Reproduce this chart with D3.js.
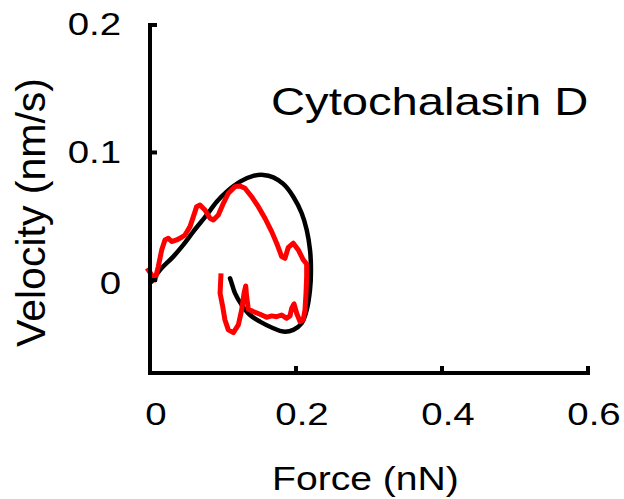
<!DOCTYPE html>
<html><head><meta charset="utf-8">
<script src="https://cdn.jsdelivr.net/npm/d3@7"></script>
<style>html,body{margin:0;padding:0;background:#fff}</style>
</head><body><svg id="c" width="624" height="499"></svg>
<script>
// ---- data ----
const xTicks = [0, 0.2, 0.4, 0.6];
const xTickLabels = ["0", "0.2", "0.4", "0.6"];
const yTicks = [0, 0.1, 0.2];
const yTickLabels = ["0", "0.1", "0.2"];
const titleText = "Cytochalasin D";
const xLabel = "Force (nN)";
const yLabel = "Velocity (nm/s)";

// model (black) loop
const modelForce = [0.0025,0.0137,0.0319,0.0456,0.0593,0.0777,0.0914,0.1051,0.1233,0.1415,0.1552,0.1689,0.1826,0.1963,0.2078,0.2147,0.2192,0.2205,0.2192,0.2147,0.2078,0.1963,0.1826,0.1689,0.1507,0.1370,0.1256,0.1164,0.1119,0.1096];
const modelVelocity = [-0.0013,0.0078,0.0183,0.0275,0.0379,0.0510,0.0614,0.0693,0.0771,0.0816,0.0824,0.0805,0.0753,0.0653,0.0523,0.0392,0.0235,0.0078,-0.0078,-0.0235,-0.0340,-0.0392,-0.0405,-0.0379,-0.0327,-0.0275,-0.0196,-0.0104,-0.0026,0.0013];

// measured (red) trace
const measForce = [-0.004,0.0068,0.0114,0.0160,0.0205,0.0251,0.0297,0.0365,0.0434,0.0479,0.0548,0.0594,0.0639,0.0685,0.0753,0.0822,0.0868,0.0936,0.1005,0.1073,0.1164,0.1233,0.1301,0.1393,0.1484,0.1575,0.1667,0.1735,0.1804,0.1849,0.1895,0.1963,0.2032,0.2100,0.2146,0.2146,0.2137,0.2123,0.2100,0.2055,0.2009,0.1973,0.1941,0.1918,0.1872,0.1804,0.1735,0.1667,0.1598,0.1507,0.1415,0.1347,0.1324,0.1311,0.1288,0.1256,0.1210,0.1142,0.1073,0.1027,0.0996,0.0960,0.0973];
const measVelocity = [0.0092,0.0000,0.0105,0.0235,0.0314,0.0327,0.0301,0.0314,0.0335,0.0353,0.0418,0.0497,0.0575,0.0588,0.0549,0.0484,0.0471,0.0510,0.0601,0.0680,0.0732,0.0737,0.0719,0.0653,0.0575,0.0484,0.0379,0.0288,0.0183,0.0170,0.0256,0.0288,0.0235,0.0157,0.0125,0.0026,-0.0105,-0.0235,-0.0309,-0.0327,-0.0261,-0.0188,-0.0222,-0.0282,-0.0301,-0.0275,-0.0288,-0.0282,-0.0293,-0.0269,-0.0248,-0.0230,-0.0131,-0.0047,-0.0105,-0.0235,-0.0353,-0.0413,-0.0392,-0.0314,-0.0209,-0.0105,0.0052];

// ---- chart ----
const svg = d3.select("#c");
svg.append("rect").attr("width",624).attr("height",499).attr("fill","#fff");
const FONT = "'Liberation Sans', Arial, Helvetica, sans-serif";

const x = d3.scaleLinear().domain([0, 0.6]).range([150, 588]);
const y = d3.scaleLinear().domain([-0.073, 0.2]).range([373, 25]);

function stretch(sel, f) {
  sel.each(function() {
    const w = this.getComputedTextLength();
    d3.select(this).attr("textLength", w * f).attr("lengthAdjust", "spacingAndGlyphs");
  });
}

// curves
const model = modelForce.map((f, i) => [f, modelVelocity[i]]);
const meas = measForce.map((f, i) => [f, measVelocity[i]]);

svg.append("path").datum(model)
  .attr("d", d3.line().x(d => x(d[0])).y(d => y(d[1])).curve(d3.curveCatmullRom))
  .attr("fill", "none").attr("stroke", "#000").attr("stroke-width", 4.5)
  .attr("stroke-linecap", "round");

svg.append("path").datum(meas)
  .attr("d", d3.line().x(d => x(d[0])).y(d => y(d[1])))
  .attr("fill", "none").attr("stroke", "#f00").attr("stroke-width", 5)
  .attr("stroke-linejoin", "round").attr("stroke-linecap", "butt");

// axes
const xAxis = svg.append("g").attr("transform", `translate(0,${y(-0.073)})`)
  .call(d3.axisBottom(x).tickValues(xTicks).tickFormat((d, i) => xTickLabels[i])
    .tickSize(-7).tickSizeOuter(0).tickPadding(29).offset(0));
const yAxis = svg.append("g").attr("transform", `translate(${x(0)},0)`)
  .call(d3.axisLeft(y).tickValues(yTicks).tickFormat((d, i) => yTickLabels[i])
    .tickSize(-7).tickSizeOuter(0).tickPadding(29).offset(0));

[xAxis, yAxis].forEach(g => {
  g.select(".domain").attr("stroke", "#000").attr("stroke-width", 4).attr("stroke-linecap", "square");
  g.selectAll(".tick line").attr("stroke", "#000").attr("stroke-width", 4);
  g.selectAll(".tick text").attr("fill", "#000").style("font-family", FONT).style("font-size", "32px");
});
xAxis.selectAll(".tick text").attr("x", 6);
yAxis.selectAll(".tick text").filter(d => d === 0).attr("y", 4);
stretch(xAxis.selectAll(".tick text"), 1.2);
stretch(yAxis.selectAll(".tick text"), 1.2);

// title
const t = svg.append("text").attr("x", 271).attr("y", 115).text(titleText)
  .style("font-family", FONT).style("font-size", "39px").attr("fill", "#000");
stretch(t, 1.21);

// x label
const xl = svg.append("text").attr("x", 272).attr("y", 490).text(xLabel)
  .style("font-family", FONT).style("font-size", "34px").attr("fill", "#000");
stretch(xl, 1.15);

// y label
svg.append("text").attr("transform", "translate(45,212.5) rotate(-90)")
  .attr("text-anchor", "middle").text(yLabel)
  .style("font-family", FONT).style("font-size", "41px").attr("fill", "#000");
</script>
</body></html>
